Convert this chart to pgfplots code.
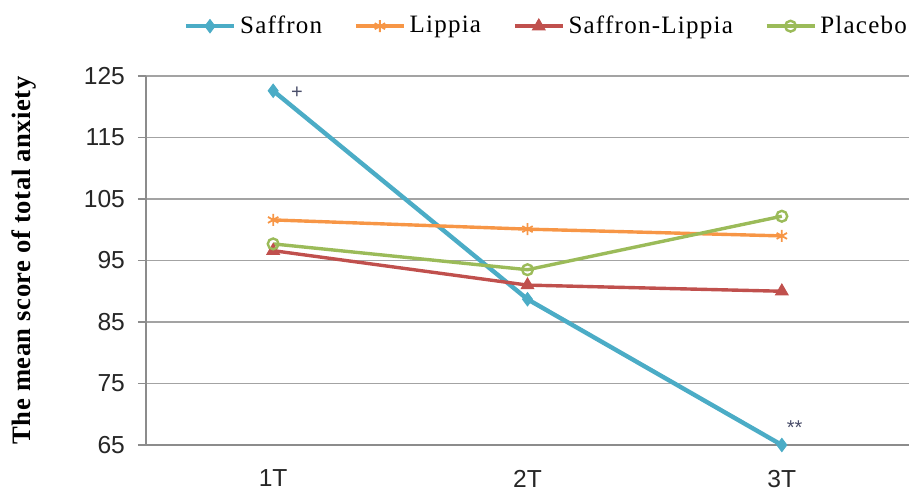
\documentclass[border=0pt]{standalone}
\usepackage{fontspec}
\setmainfont{Liberation Sans}
\newfontfamily\legfont[LetterSpace=5]{Liberation Serif}
\newfontfamily\labfont[LetterSpace=2]{Liberation Serif}
\usepackage{pgfplots}
\pgfplotsset{compat=1.18}
\definecolor{cSaf}{HTML}{4BACC6}
\definecolor{cLip}{HTML}{F79646}
\definecolor{cSL}{HTML}{C0504D}
\definecolor{cPla}{HTML}{9BBB59}
\definecolor{cAx}{HTML}{8C8C8C}
\definecolor{cNote}{HTML}{4A4E6A}
\begin{document}
\begin{tikzpicture}
\useasboundingbox (-73pt,-24pt) rectangle (384pt,222.5pt);
\begin{axis}[
  at={(0,0)}, anchor=origin,
  scale only axis, width=381.5pt, height=184.5pt,
  xmin=0.5, xmax=3.5, ymin=65, ymax=125,
  axis x line*=bottom, axis y line*=left,
  axis line style={cAx, line width=0.7pt, -},
  xtick={1,2,3}, xticklabels={1T,2T,3T},
  major x tick style={draw=none},
  extra x ticks={0.5,1.5,2.5,3.5}, extra x tick labels={},
  extra x tick style={major tick length=4pt, tick style={cAx, line width=0.7pt, draw=cAx}, tick align=outside, grid=none},
  ytick={65,75,...,125},
  ymajorgrids, grid style={cAx!80, line width=0.7pt},
  y tick style={cAx, line width=0.7pt},
  tick align=outside, major tick length=4pt,
  /pgf/number format/assume math mode=true,
  tick label style={font=\fontsize{12.3}{14}\selectfont, text=black!85},
  yticklabel style={xshift=-3pt},
  xticklabel style={yshift=-5pt},
  ylabel={\labfont\bfseries The mean score of total anxiety},
  ylabel style={font=\fontsize{13.3}{15}\selectfont, at={(axis description cs:-0.16,0.5)}, anchor=center},
  legend columns=4,
  legend style={at={(0.526,1.135)}, anchor=center, draw=none, fill=none,
    font=\legfont\fontsize{12.5}{14}\selectfont, inner sep=0pt,
    /tikz/every even column/.append style={column sep=14pt}},
  legend image code/.code={\draw[#1, mark repeat=2, mark phase=2] plot coordinates {(0pt,0pt) (12pt,0pt) (24pt,0pt)};},
]
\addplot[cSaf, line width=2.2pt, mark=diamond*, mark size=3.3pt, mark options={solid, line width=0.5pt}]
  coordinates {(1,122.6) (2,88.7) (3,65.0)};
\addlegendentry{Saffron}
\addplot[cLip, line width=1.7pt, mark=asterisk, mark size=3pt, mark options={solid, line width=0.9pt}]
  coordinates {(1,101.6) (2,100.1) (3,99.0)};
\addlegendentry{Lippia}
\addplot[cSL, line width=1.7pt, mark=triangle*, mark size=3.6pt, mark options={solid, line width=0.5pt}]
  coordinates {(1,96.6) (2,91.0) (3,90.0)};
\addlegendentry{Saffron-Lippia}
\addplot[cPla, line width=1.7pt, mark=o, mark size=2.7pt, mark options={solid, fill=white, line width=1.2pt}]
  coordinates {(1,97.7) (2,93.5) (3,102.2)};
\addlegendentry{Placebo}
\node[text=cNote, font=\fontsize{10}{12}\selectfont] at (axis cs:1.094,122.3) {+};
\node[text=cNote, font=\fontsize{10}{12}\selectfont] at (axis cs:3.05,67.8) {**};
\end{axis}
\end{tikzpicture}
\end{document}
